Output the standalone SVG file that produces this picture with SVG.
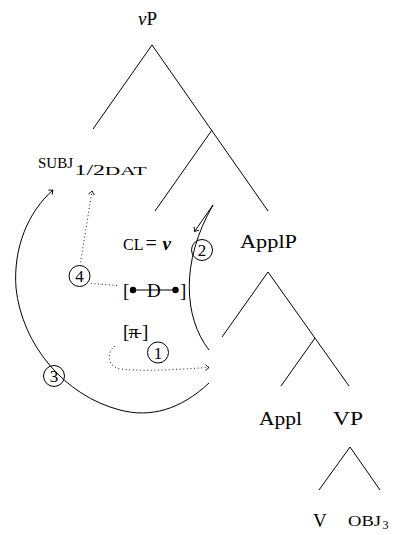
<svg xmlns="http://www.w3.org/2000/svg" width="412" height="535" viewBox="0 0 412 535">
<style>
text{font-family:"Liberation Serif","DejaVu Serif",serif;fill:#000}
.lab{font-size:19px}
.tree{stroke:#000;stroke-width:1;fill:none}
.solid{stroke:#000;stroke-width:1;fill:none}
.dot{stroke:#222;stroke-width:1;fill:none;stroke-dasharray:1 2.6}
.circ{stroke:#000;stroke-width:1;fill:none}
.num{font-size:17px;text-anchor:middle}
</style>
<defs>
<marker id="arr" markerWidth="8" markerHeight="8" refX="0" refY="0" viewBox="-5 -4 6 8" orient="auto" markerUnits="userSpaceOnUse">
<path d="M-3.5,-3 Q-1.5,-0.8 0,0 Q-1.5,0.8 -3.5,3" stroke="#000" stroke-width="0.9" fill="none"/>
</marker>
</defs>
<g id="tree-lines">
<path class="tree" d="M152,45 L93,129 M152,45 L268,211 M212,130 L155,211"/>
<path class="tree" d="M268,272 L222,337 M268,272 L349,386 M315,338 L281,386"/>
<path class="tree" d="M350,447 L319,490 M350,447 L380,490"/>
</g>
<g id="node-vP"><text class="lab" x="138" y="25"><tspan font-style="italic">v</tspan>P</text></g>
<g id="node-subj">
<text x="38" y="168" font-size="15" textLength="35">SUBJ</text>
<text x="74.5" y="175" font-size="15" textLength="72" lengthAdjust="spacingAndGlyphs">1/2<tspan font-size="13.5">DAT</tspan></text>
</g>
<g id="node-cl">
<text x="123" y="250" font-size="16">CL</text>
<text x="145.5" y="250" font-size="20">=</text>
<text class="lab" x="162.5" y="250" font-weight="bold" font-style="italic">v</text>
</g>
<g id="node-D">
<text class="lab" x="123" y="297">[</text>
<text class="lab" x="147" y="297" textLength="14">D</text>
<text class="lab" x="180" y="297">]</text>
<line x1="133" y1="290" x2="176" y2="290" stroke="#000" stroke-width="1"/>
<circle cx="133" cy="290" r="3.2" fill="#000"/>
<circle cx="175.5" cy="290" r="3.2" fill="#000"/>
</g>
<g id="node-pi">
<text class="lab" x="123" y="338">[</text>
<text class="lab" x="129" y="338">π</text>
<text class="lab" x="142" y="338">]</text>
<line x1="128.5" y1="333.5" x2="141.5" y2="333.5" stroke="#000" stroke-width="1"/>
</g>
<g id="node-ApplP"><text class="lab" x="240" y="248" textLength="57" lengthAdjust="spacingAndGlyphs">ApplP</text></g>
<g id="node-Appl"><text class="lab" x="259" y="425" textLength="43" lengthAdjust="spacingAndGlyphs">Appl</text></g>
<g id="node-VP"><text class="lab" x="333" y="425" textLength="30" lengthAdjust="spacingAndGlyphs">VP</text></g>
<g id="node-V"><text class="lab" x="313" y="527">V</text></g>
<g id="node-obj">
<text x="348" y="526" font-size="14" textLength="33" lengthAdjust="spacingAndGlyphs">OBJ</text>
<text x="382.5" y="529" font-size="12">3</text>
</g>
<g id="connectors">
<path class="solid" d="M209,350 C184,318 180,262 213,205 L194.5,231.5" marker-end="url(#arr)"/>
<path class="solid" d="M209,383 C180,410 150,418 120,410 C65,396 22,345 16,288 C13,248 28,212 53,190" marker-end="url(#arr)"/>
<path class="dot" d="M115,346 C107,352 106,366 120,369 C150,372 180,369 209,367.5" marker-end="url(#arr)"/>
<path class="dot" d="M117,285.5 L91,283.5"/>
<path class="dot" d="M80,266 L92,191" marker-end="url(#arr)"/>
</g>
<g id="labels-circled">
<circle class="circ" cx="202" cy="250" r="10.5"/><text class="num" x="202" y="256">2</text>
<circle class="circ" cx="158" cy="352.5" r="10.5"/><text class="num" x="158" y="358.5">1</text>
<circle class="circ" cx="54" cy="376" r="10.5"/><text class="num" x="54" y="382">3</text>
<circle class="circ" cx="79.5" cy="276" r="10.5"/><text class="num" x="79.5" y="282">4</text>
</g>
</svg>
